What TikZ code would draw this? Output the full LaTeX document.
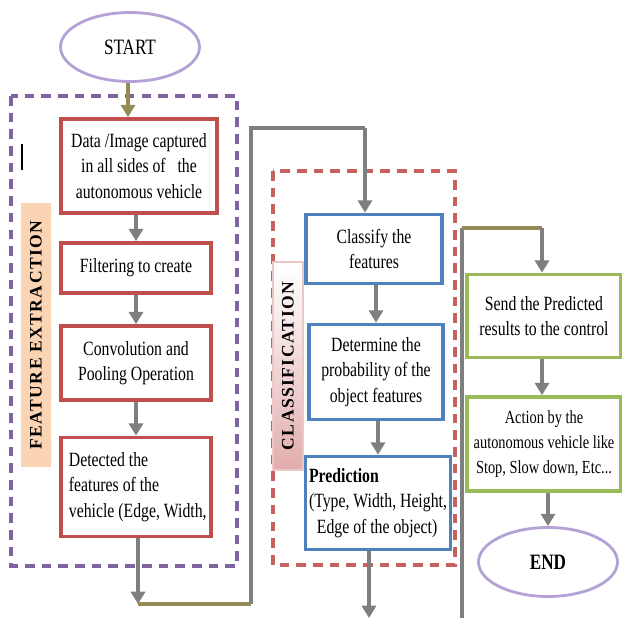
\documentclass[tikz,border=0pt]{standalone}
\usepackage{fontspec}
\setmainfont{Liberation Serif}[FakeStretch=0.78]
\newfontfamily\labelfont{Liberation Serif}[LetterSpace=8]
\usetikzlibrary{arrows.meta,shapes.geometric}

\definecolor{boxred}{HTML}{C0504D}
\definecolor{boxblue}{HTML}{4F81BD}
\definecolor{boxgreen}{HTML}{9BBB59}
\definecolor{grouppurple}{HTML}{8064A2}
\definecolor{ovalpurple}{HTML}{B4A2D6}
\definecolor{linegray}{HTML}{7F7F7F}
\definecolor{lineolive}{HTML}{948A54}
\definecolor{labelorange}{HTML}{FBD4B4}
\definecolor{labelpink}{HTML}{E3AFAE}

\begin{document}
\begin{tikzpicture}[x=0.02cm, y=-0.02cm,
    box/.style={draw, line width=2.1pt, fill=white, inner sep=2pt, align=center,
      font=\fontsize{11.5pt}{14.5pt}\selectfont},
    febox/.style={box, draw=boxred},
    clbox/.style={box, draw=boxblue},
    acbox/.style={box, draw=boxgreen},
    oval/.style={ellipse, draw=ovalpurple, line width=1.6pt, inner sep=0pt,
      minimum width=2.78cm, minimum height=1.38cm, font=\fontsize{12.5pt}{14pt}\selectfont},
    group/.style={line width=1.9pt, dash pattern=on 5.5pt off 4pt},
    sidelabel/.style={rotate=90, inner sep=0pt, font=\labelfont\bfseries\fontsize{10pt}{11pt}\selectfont},
    gline/.style={draw=linegray, line width=1.9pt},
    oline/.style={draw=lineolive, line width=1.9pt},
    garr/.style={gline, -{Triangle[width=8pt,length=7pt]}},
    oarr/.style={oline, -{Triangle[width=8pt,length=7pt]}}]

    \useasboundingbox (0,0) rectangle (622,618);

    % Groups
    \draw[group, grouppurple] (11,96) rectangle (237,566);
    \draw[group, boxred!90] (273,171) rectangle (455,565);
    \draw[line width=1.1pt] (22,144) -- (22,170);

    \node[sidelabel, fill=labelorange, minimum width=5.3cm, minimum height=0.6cm] (felabel) at (36,335) {FEATURE EXTRACTION};
    % white to pink, top to bottom
    \foreach \i in {0,...,25} {
      \pgfmathtruncatemacro\pct{4*\i}
      \fill[labelpink!\pct!white] (273,{262+8*\i}) rectangle (303,{270.5+8*\i});
    }
    \draw[labelpink!70, line width=0.6pt] (273,262) rectangle (303,470);
    \node[sidelabel, minimum width=4.16cm, minimum height=0.6cm] (cllabel) at (288,366) {CLASSIFICATION};

    % Start and feature extraction
    \node[oval] (start) at (130,47) {START};
    \node[febox, minimum width=3.12cm, minimum height=1.88cm] (capture) at (139,166)
      {Data /Image captured\\in all sides of \ \ the\\autonomous vehicle};
    \node[febox, minimum width=3cm, minimum height=1cm] (filter) at (136,268) {Filtering to create};
    \node[febox, minimum width=3cm, minimum height=1.48cm] (conv) at (136,363) {Convolution and\\Pooling Operation};
    \node[febox, minimum width=3cm, minimum height=1.98cm, align=left] (detect) at (136,487)
      {\hspace*{2pt}Detected the\\\hspace*{2pt}features of the\\\hspace*{2pt}vehicle (Edge, Width,};

    % Classification
    \node[clbox, minimum width=2.72cm, minimum height=1.38cm] (classify) at (374,249) {Classify the\\features};
    \node[clbox, minimum width=2.68cm, minimum height=1.9cm] (prob) at (376,372)
      {Determine the\\probability of the\\object features};
    \node[clbox, minimum width=2.72cm, minimum height=1.86cm, align=left] (predict) at (378,503)
      {\textbf{Prediction}\\(Type, Width, Height,\\\hspace*{4.5pt}Edge of the object)};

    % Action
    \node[acbox, minimum width=3.08cm, minimum height=1.66cm] (send) at (544,316)
      {Send the Predicted\\results to the control};
    \node[acbox, minimum width=3.08cm, minimum height=1.88cm, font=\fontsize{10.5pt}{14pt}\selectfont] (action) at (544,444)
      {Action by the\\autonomous vehicle like\\Stop, Slow down, Etc...};
    \node[oval, font=\bfseries\fontsize{12.5pt}{14pt}\selectfont] (end) at (548,562) {END};

    % Turning points of the long connectors
    \coordinate (f1) at (138,604);
    \coordinate (f2) at (251,604);
    \coordinate (f3) at (365,128);
    \coordinate (g1) at (369,618);
    \coordinate (g2) at (462,618);
    \coordinate (g3) at (462,228);
    \coordinate (g4) at (542,228);

    % Connectors
    \draw[oarr] (start.south -| 128,0) -- (128,0 |- capture.north);
    \draw[garr] (capture.south -| filter.north) -- (filter.north);
    \draw[garr] (filter) -- (conv);
    \draw[garr] (conv) -- (detect);
    \draw[garr] (detect.south -| f1) -- (f1);
    \draw[oline] (f1) -- (f2);
    \draw[gline] (f2) |- (f3);
    \draw[garr] (f3) -- (f3 |- classify.north);
    \draw[garr] (classify.south -| prob.north) -- (prob.north);
    \draw[garr] (prob.south -| predict.north) -- (predict.north);
    \draw[garr] (predict.south -| g1) -- (g1);
    \draw[gline] (g2) -- (g3);
    \draw[oline] (g3) -- (g4);
    \draw[garr] (g4) -- (g4 |- send.north);
    \draw[garr] (send.south -| g4) -- (g4 |- action.north);
    \draw[garr] (action.south -| end.north) -- (end.north);
\end{tikzpicture}
\end{document}
